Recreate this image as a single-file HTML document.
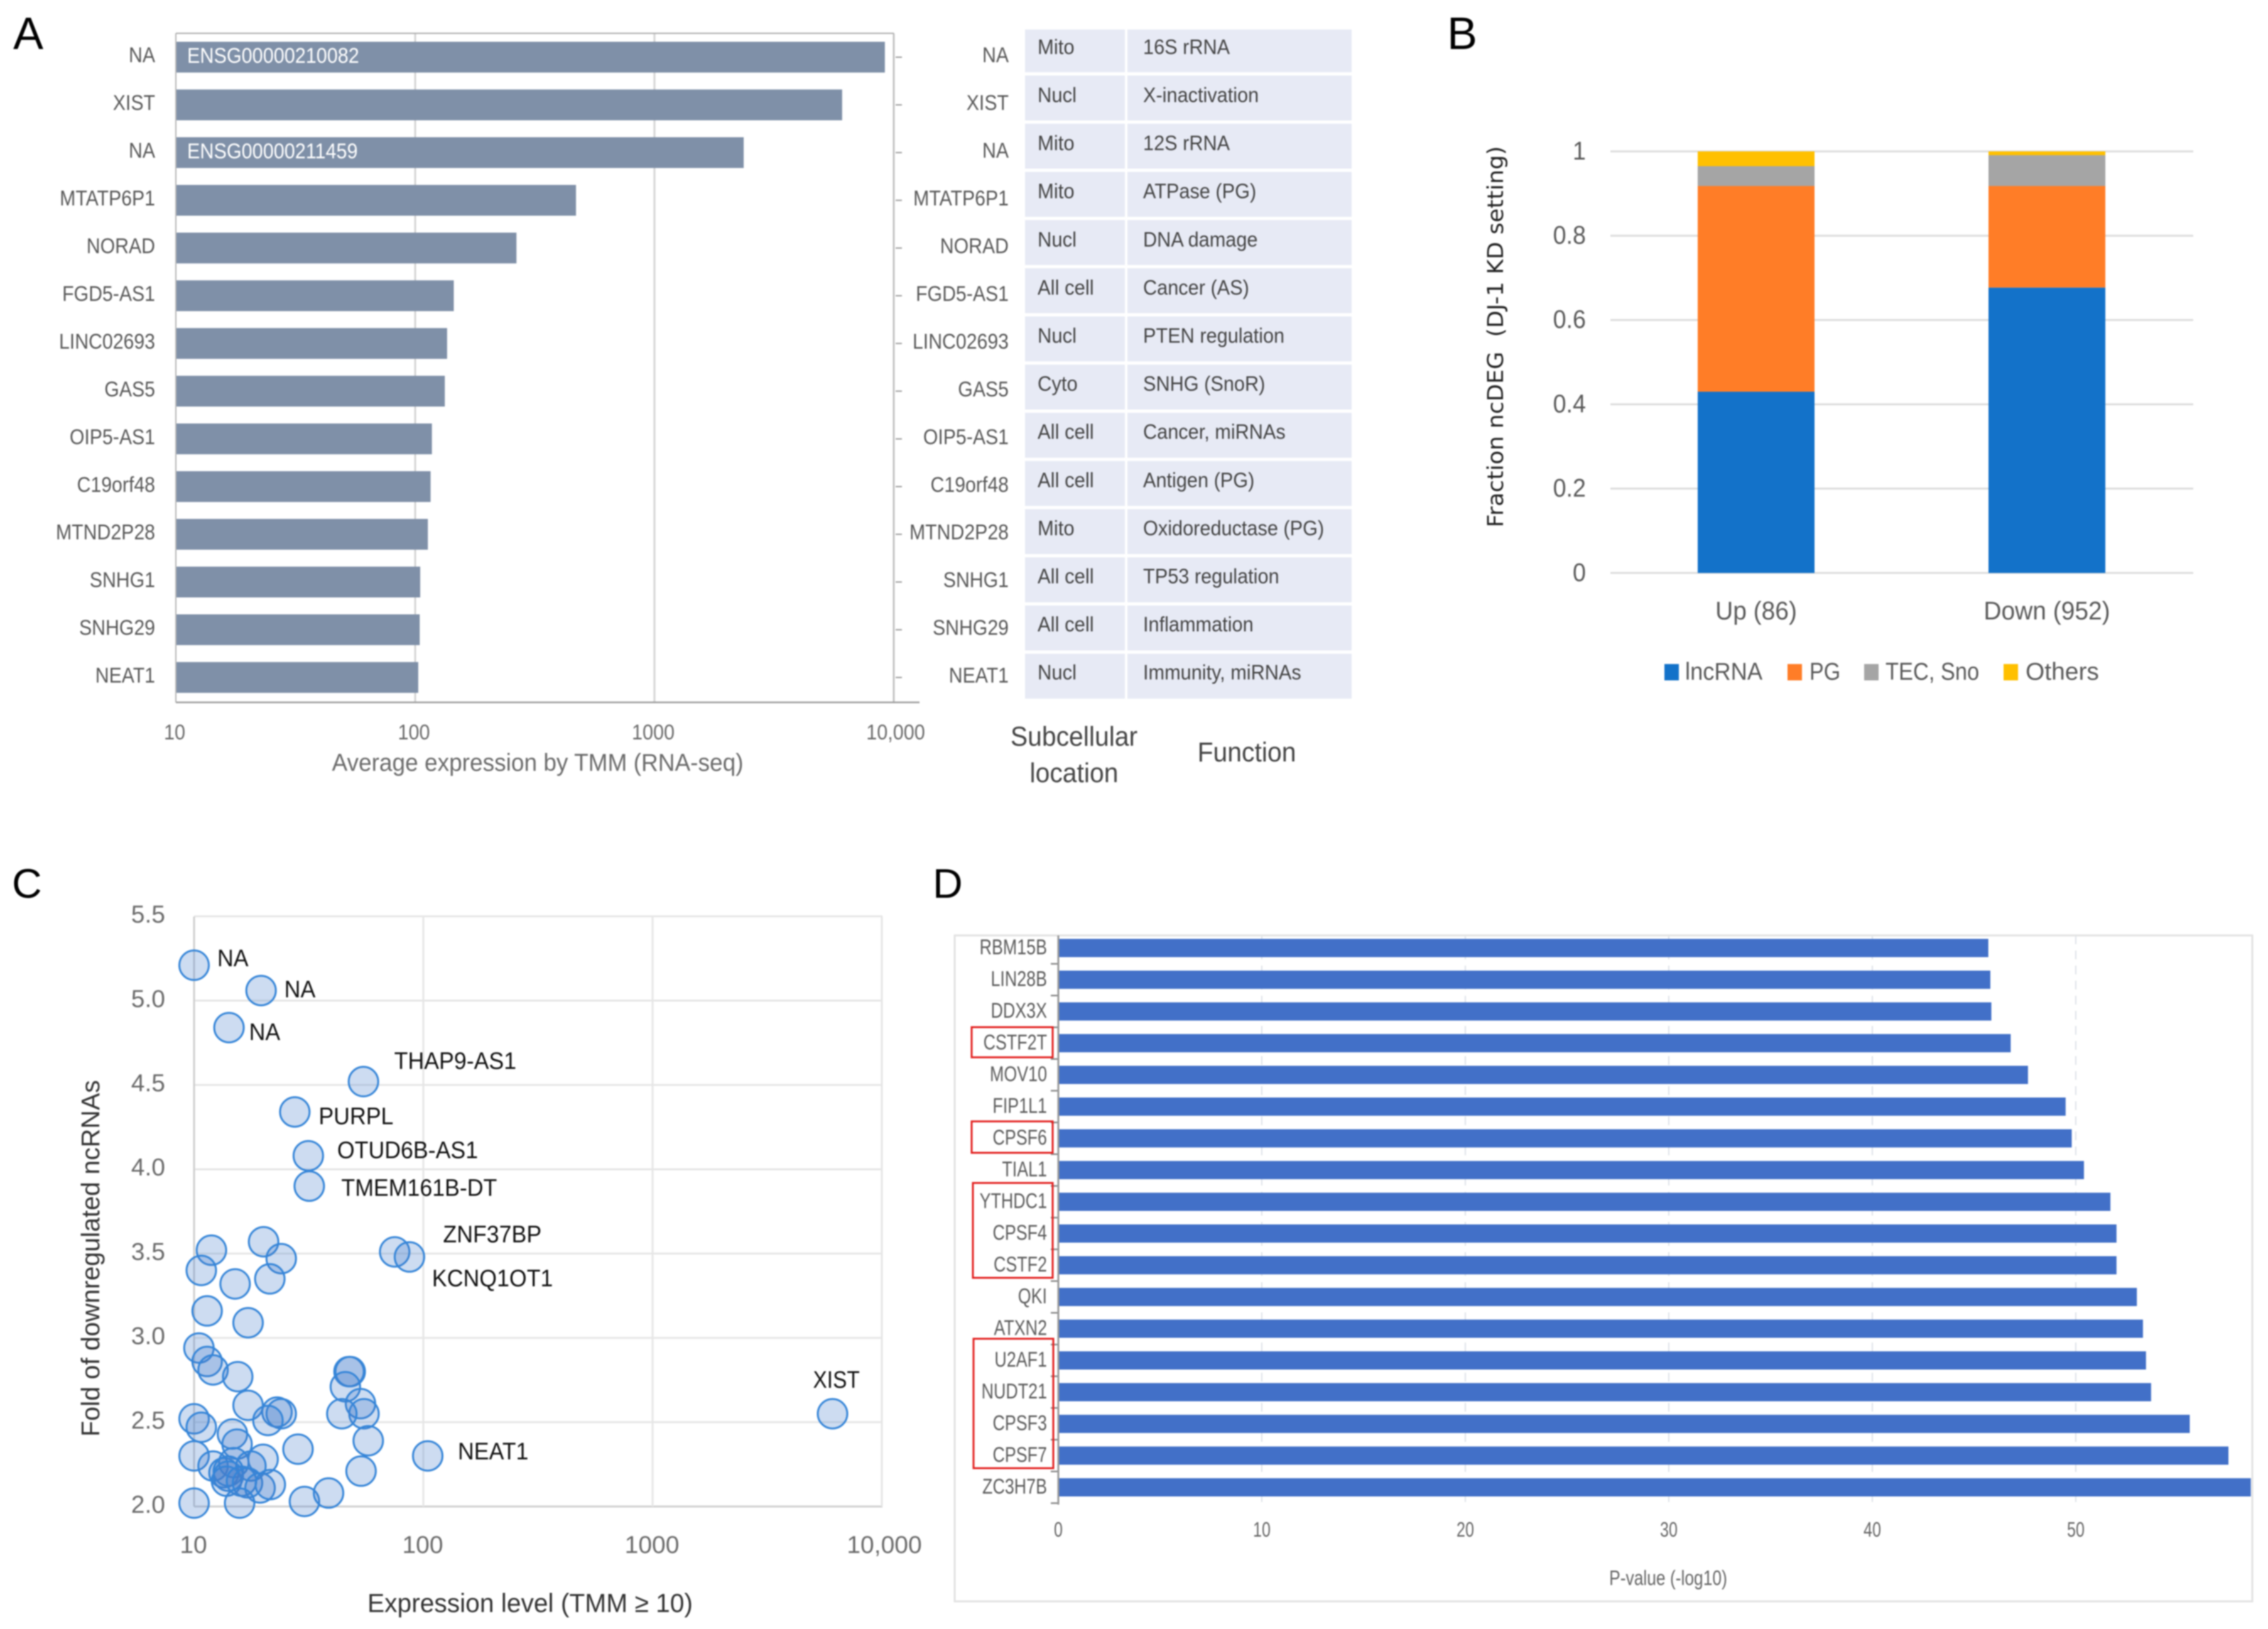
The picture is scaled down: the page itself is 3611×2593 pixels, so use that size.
<!DOCTYPE html>
<html lang="en">
<head>
<meta charset="utf-8">
<title>ncRNA expression figure panels A-D</title>
<style>
html,body{margin:0;padding:0;background:#fff;}
#figure{display:block;filter:blur(1.1px);font-family:"Liberation Sans",sans-serif;}
</style>
</head>
<body>
<svg id="figure" xmlns="http://www.w3.org/2000/svg" width="3611" height="2593" viewBox="0 0 3611 2593">
  <rect x="0" y="0" width="3611" height="2593" fill="#fff"/>
  <text x="21" y="78" font-size="72" fill="#000">A</text>
  <text x="2304" y="78" font-size="72" fill="#000">B</text>
  <text x="19" y="1429" font-size="66" fill="#000">C</text>
  <text x="1485" y="1429" font-size="66" fill="#000">D</text>

  <g id="panel-a"></g>
  <text transform="translate(856 1227) scale(0.95 1)" font-size="39" fill="#6b6b6b" text-anchor="middle">Average expression by TMM (RNA-seq)</text>
  <g id="panel-table"></g>
  <text transform="translate(1710 1187) scale(0.93 1)" font-size="44" fill="#444" text-anchor="middle">Subcellular</text>
  <text transform="translate(1710 1245) scale(0.93 1)" font-size="44" fill="#444" text-anchor="middle">location</text>
  <text transform="translate(1985 1212) scale(0.93 1)" font-size="44" fill="#444" text-anchor="middle">Function</text>

  <g id="panel-b"></g>
  <text transform="translate(2393 536) rotate(-90)" xml:space="preserve" style="font-family:'DejaVu Sans','Liberation Sans',sans-serif" font-size="35" fill="#222" text-anchor="middle" textLength="607" lengthAdjust="spacingAndGlyphs">Fraction ncDEG  (DJ-1 KD setting)</text>

  <g id="panel-c"></g>
  <text transform="translate(844 2566) scale(0.97 1)" font-size="42" fill="#333" text-anchor="middle">Expression level (TMM ≥ 10)</text>
  <text transform="translate(158 2003) rotate(-90)" font-size="41" fill="#333" text-anchor="middle">Fold of downregulated ncRNAs</text>

  <rect x="1520" y="1489" width="2066" height="1060" fill="#fff" stroke="#e2e2e2" stroke-width="3"/>
  <g id="panel-d"></g>
  <text transform="translate(2656 2523) scale(0.8 1)" font-size="33" fill="#666" text-anchor="middle">P-value (-log10)</text>
  <rect x="1547" y="1635" width="129" height="48" fill="none" stroke="#e3201f" stroke-width="3"/>
  <rect x="1547" y="1785" width="129" height="50" fill="none" stroke="#e3201f" stroke-width="3"/>
  <rect x="1549" y="1883" width="127" height="151" fill="none" stroke="#e3201f" stroke-width="3"/>
  <rect x="1550" y="2131" width="127" height="206" fill="none" stroke="#e3201f" stroke-width="3"/>
</svg>
<script>
// Panel A data
const exprGenes = ['NA','XIST','NA','MTATP6P1','NORAD','FGD5-AS1','LINC02693','GAS5','OIP5-AS1','C19orf48','MTND2P28','SNHG1','SNHG29','NEAT1'];
const exprValues = [9180,6085,2360,470,265,145,136,133,117.5,116,113,105,104.5,103];
const exprBarNotes = ['ENSG00000210082','','ENSG00000211459','','','','','','','','','','',''];
const exprTickValues = [10,100,1000,10000];
const exprTickLabels = ['10','100','1000','10,000'];
const tableLocations = ['Mito','Nucl','Mito','Mito','Nucl','All cell','Nucl','Cyto','All cell','All cell','Mito','All cell','All cell','Nucl'];
const tableFunctions = ['16S rRNA','X-inactivation','12S rRNA','ATPase (PG)','DNA damage','Cancer (AS)','PTEN regulation','SNHG (SnoR)','Cancer, miRNAs','Antigen (PG)','Oxidoreductase (PG)','TP53 regulation','Inflammation','Immunity, miRNAs'];

// Panel B data
const fractionCategories = ['Up (86)','Down (952)'];
const fractionLncRNA = [0.43,0.677];
const fractionPG = [0.488,0.241];
const fractionTEC = [0.047,0.073];
const fractionOthers = [0.035,0.009];
const fractionTicks = [0,0.2,0.4,0.6,0.8,1];
const fractionTickLabels = ['0','0.2','0.4','0.6','0.8','1'];
const fractionSeriesNames = ['lncRNA','PG','TEC, Sno','Others'];

// Panel C data
const scatterTMM = [10,19.6,14.2,54.8,27.5,31.5,31.8,11.9,10.75,20.1,24,21.4,15.1,11.4,17.2,75,87,10.5,11.4,12.1,15.5,47.4,48,45.7,17.2,53.2,55.1,44.1,23,24,21,10,10.75,14.7,15.4,57.5,28.4,10,12.1,14.9,20,17.7,13.5,14.1,14.1,13.85,16.1,17.1,19.4,21.5,53.5,104.5,6095,10,15.8,30.3,38.6];
const scatterFold = [5.21,5.06,4.84,4.52,4.34,4.08,3.9,3.52,3.4,3.57,3.47,3.35,3.32,3.16,3.09,3.51,3.48,2.94,2.86,2.81,2.77,2.8,2.8,2.71,2.6,2.61,2.55,2.55,2.56,2.55,2.51,2.52,2.47,2.43,2.37,2.39,2.34,2.3,2.24,2.26,2.28,2.24,2.2,2.21,2.18,2.15,2.15,2.14,2.11,2.13,2.21,2.3,2.55,2.02,2.02,2.03,2.08];
const scatterLabels = ['NA','NA','NA','THAP9-AS1','PURPL','OTUD6B-AS1','TMEM161B-DT','','','','','','','','','ZNF37BP','KCNQ1OT1'];
const scatterXTicks = [10,100,1000,10000];
const scatterXTickLabels = ['10','100','1000','10,000'];
const scatterYTicks = [2,2.5,3,3.5,4,4.5,5,5.5];
const scatterYTickLabels = ['2.0','2.5','3.0','3.5','4.0','4.5','5.0','5.5'];
const scatterExtraLabels = ['XIST','NEAT1'];

// Panel D data
const rbpNames = ['RBM15B','LIN28B','DDX3X','CSTF2T','MOV10','FIP1L1','CPSF6','TIAL1','YTHDC1','CPSF4','CSTF2','QKI','ATXN2','U2AF1','NUDT21','CPSF3','CPSF7','ZC3H7B'];
const rbpPValues = [45.7,45.8,45.85,46.8,47.65,49.5,49.8,50.4,51.7,52,52,53,53.3,53.45,53.7,55.6,57.5,58.6];
const rbpTicks = [0,10,20,30,40,50];
const rbpTickLabels = ['0','10','20','30','40','50'];

const NS = 'http://www.w3.org/2000/svg';
function mk(parent, tag, attrs) {
  const el = document.createElementNS(NS, tag);
  for (const k in attrs) el.setAttribute(k, attrs[k]);
  parent.appendChild(el);
  return el;
}
function txt(parent, x, y, str, size, fill, anchor, sx) {
  const el = mk(parent, 'text', {
    transform: 'translate(' + x + ' ' + (y + size * 0.36) + ') scale(' + (sx || 1) + ' 1)',
    'font-size': size, fill: fill, 'text-anchor': anchor || 'start'
  });
  el.textContent = str;
  return el;
}

/* ---------- Panel A ---------- */
(function () {
  const g = document.getElementById('panel-a');
  const tbl = document.getElementById('panel-table');
  const xA = v => 280 + (Math.log10(v) - 1) * 381;
  const rowY = i => 91 + i * 75.95;
  let el;
  exprTickValues.forEach((v, i) => {
    if (i > 0) {
      el = mk(g, 'line', {x1: xA(v), x2: xA(v), y1: 53, y2: 1118, stroke: i === 3 ? '#c4c4c4' : '#d4d4d4', 'stroke-width': 3});
      
      
    }
    el = txt(g, v === 10000 ? xA(v) + 3 : xA(v) - 2, 1165, exprTickLabels[i], 34, '#6b6b6b', 'middle', 0.9);
    
    
  });
  el = mk(g, 'line', {x1: 280, x2: 1423, y1: 53, y2: 53, stroke: '#aaa', 'stroke-width': 2});
  
  
  el = mk(g, 'line', {x1: 280, x2: 280, y1: 53, y2: 1118, stroke: '#b5b5b5', 'stroke-width': 2});
  
  
  el = mk(g, 'line', {x1: 280, x2: 1464, y1: 1118, y2: 1118, stroke: '#999', 'stroke-width': 2.5});
  
  
  exprGenes.forEach((name, i) => {
    const y = rowY(i);
    el = mk(g, 'rect', {x: 281, y: y - 24.5, width: xA(exprValues[i]) - 281, height: 49, fill: '#7f90a8'});
    
    
    if (exprBarNotes[i]) {
      el = txt(g, 298, y - 3, exprBarNotes[i], 34, '#fff', 'start', 0.9);
      
      
    }
    el = txt(g, 247, y - 4, name, 34, '#595959', 'end', 0.89);
    
    
    el = txt(g, 1606, y - 4, name, 34, '#595959', 'end', 0.89);
    
    
    el = mk(g, 'line', {x1: 1426, x2: 1436, y1: y, y2: y, stroke: '#999', 'stroke-width': 2});
    
    

    const top = i === 0 ? 47 : 43.5 + i * 76.7;
    const h = i === 0 ? 68 : 71.5;
    el = mk(tbl, 'rect', {x: 1632, y: top, width: 159, height: h, fill: '#e7eaf5'});
    
    
    el = mk(tbl, 'rect', {x: 1795, y: top, width: 357, height: h, fill: '#e7eaf5'});
    
    
    el = txt(tbl, 1652, 74 + i * 76.6, tableLocations[i], 33, '#444', 'start', 0.94);
    
    
    el = txt(tbl, 1820, 74 + i * 76.6, tableFunctions[i], 33, '#444', 'start', 0.93);
    
    
  });
})();

/* ---------- Panel B ---------- */
(function () {
  const g = document.getElementById('panel-b');
  const yB = v => 912 - v * 671;
  const centers = [2796, 3259];
  const colors = ['#1372c9', '#ff7d27', '#a5a5a5', '#ffc000'];
  const series = [fractionLncRNA, fractionPG, fractionTEC, fractionOthers];
  let el;
  fractionTicks.forEach((v, i) => {
    el = mk(g, 'line', {x1: 2564, x2: 3492, y1: yB(v), y2: yB(v), stroke: '#dcdcdc', 'stroke-width': 3});
    
    
    el = txt(g, 2525, yB(v) - 2, fractionTickLabels[i], 41, '#595959', 'end', 0.92);
    
    
  });
  fractionCategories.forEach((cat, c) => {
    let base = 0;
    series.forEach((vals, s) => {
      const top = base + vals[c];
      el = mk(g, 'rect', {x: centers[c] - 93, y: yB(top), width: 186, height: yB(base) - yB(top), fill: colors[s]});
      
      
      base = top;
    });
    el = txt(g, centers[c], 971, cat, 41, '#595959', 'middle', 0.95);
    
    
  });
  const swatchX = [2650, 2846, 2968, 3190];
  const labelX = [2683, 2881, 3002, 3225];
  const labelStretch = [0.96, 0.9, 0.91, 1.03];
  fractionSeriesNames.forEach((name, i) => {
    el = mk(g, 'rect', {x: swatchX[i], y: 1057, width: 23, height: 26, fill: colors[i]});
    
    
    el = txt(g, labelX[i], 1068, name, 39, '#595959', 'start', labelStretch[i] * 0.97);
    
    
  });
})();

/* ---------- Panel C ---------- */
(function () {
  const g = document.getElementById('panel-c');
  const xC = v => 309 + (Math.log10(v) - 1) * 365;
  const yC = v => 2398 - (v - 2) * 268.4;
  let el;
  scatterYTicks.forEach((v, i) => {
    el = mk(g, 'line', {x1: 309, x2: 1405, y1: yC(v), y2: yC(v), stroke: i === 0 ? '#cfcfcf' : '#e6e6e6', 'stroke-width': 3});
    
    
    el = txt(g, 263, yC(v) - 4, scatterYTickLabels[i], 39, '#6a6a6a', 'end');
    
    
  });
  scatterXTicks.forEach((v, i) => {
    el = mk(g, 'line', {x1: xC(v), x2: xC(v), y1: 1459, y2: 2398, stroke: i === 0 ? '#cfcfcf' : '#e6e6e6', 'stroke-width': 3});
    
    
    el = txt(g, xC(v) + (v === 10000 ? 4 : -1), 2458, scatterXTickLabels[i], 39, '#6a6a6a', 'middle');
    
    
  });
  scatterTMM.forEach((v, i) => {
    el = mk(g, 'circle', {cx: xC(v), cy: yC(scatterFold[i]), r: 23.5, fill: 'rgba(70,125,205,0.27)', stroke: '#3585d8', 'stroke-width': 3});
    
    
  });
  const offX = [37, 37, 32, 49, 38, 46, 51, 0, 0, 0, 0, 0, 0, 0, 0, 77, 36];
  const offY = [-12, -3, 6, -34, 6, -10, 2, 0, 0, 0, 0, 0, 0, 0, 0, -29, 33];
  scatterLabels.forEach((name, i) => {
    if (!name) return;
    el = txt(g, xC(scatterTMM[i]) + offX[i], yC(scatterFold[i]) + offY[i], name, 38, '#111', 'start', 0.94);
    
    
  });
  const xistIdx = 52, neatIdx = 51;
  el = txt(g, xC(scatterTMM[xistIdx]) - 31, yC(scatterFold[xistIdx]) - 55, scatterExtraLabels[0], 38, '#111', 'start', 0.88);
  
  
  el = txt(g, xC(scatterTMM[neatIdx]) + 48, yC(scatterFold[neatIdx]) - 8, scatterExtraLabels[1], 38, '#111', 'start', 0.94);
  
  
})();

/* ---------- Panel D ---------- */
(function () {
  const g = document.getElementById('panel-d');
  const xD = v => 1685 + v * 32.4;
  const rowY = i => 1509 + i * 50.5;
  let el;
  rbpTicks.forEach((v, i) => {
    if (i > 0) {
      el = mk(g, 'line', {x1: xD(v), x2: xD(v), y1: 1489, y2: 2395, stroke: '#dfe3e8', 'stroke-width': 2, 'stroke-dasharray': '14 10'});
      
      
    }
    el = txt(g, xD(v), 2434, rbpTickLabels[i], 33, '#666', 'middle', 0.76);
    
    
  });
  rbpNames.forEach((name, i) => {
    const y = rowY(i);
    el = mk(g, 'rect', {x: 1686, y: y - 14.5, width: Math.min(xD(rbpPValues[i]), 3584) - 1686, height: 29, fill: '#4270c8'});
    
    
    el = txt(g, 1667, y - 2, name, 34, '#5c5c5c', 'end', 0.79);
    
    
    el = mk(g, 'line', {x1: 1673, x2: 1685, y1: y + 25.2, y2: y + 25.2, stroke: '#888', 'stroke-width': 2.5});
    
    
  });
  el = mk(g, 'line', {x1: 1685, x2: 1685, y1: 1489, y2: 2395, stroke: '#999', 'stroke-width': 3});
  
  
})();
</script>
</body>
</html>
